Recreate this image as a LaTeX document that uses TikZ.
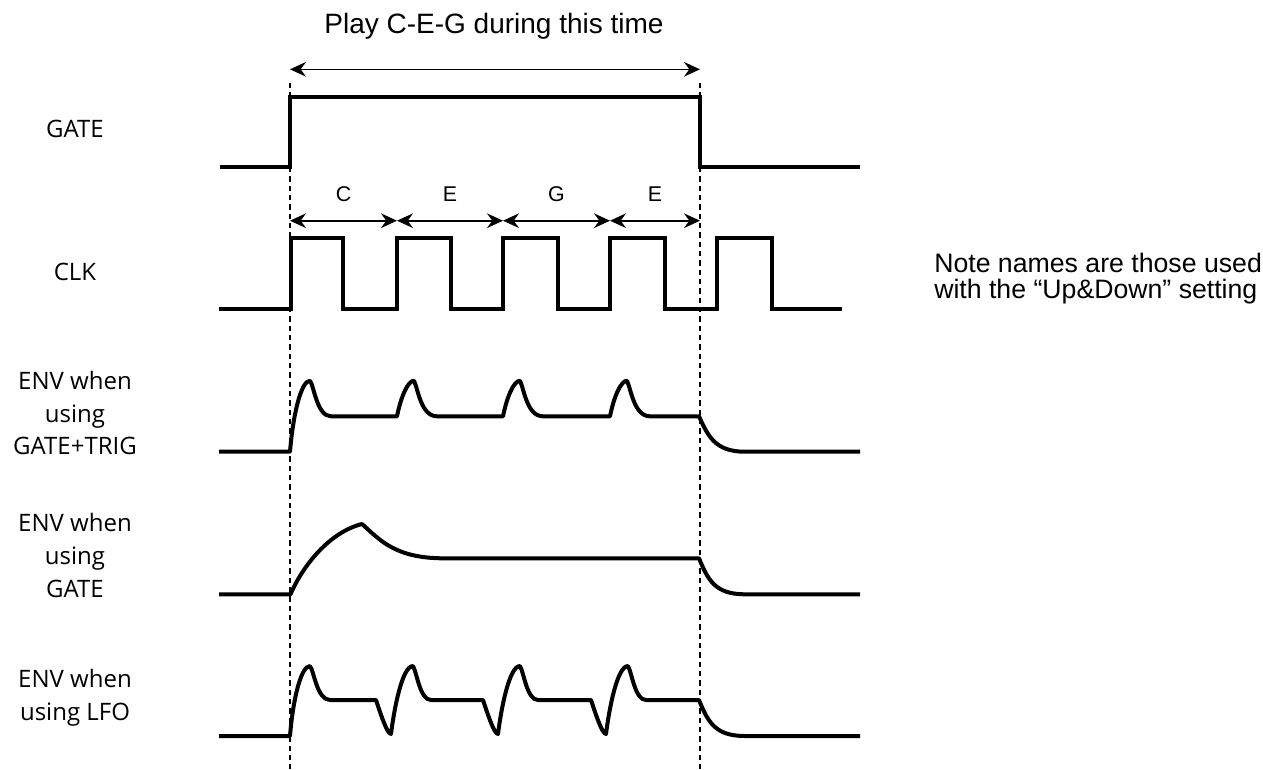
\documentclass[tikz,border=0pt]{standalone}
\usepackage{fontspec}
\setmainfont{Liberation Sans}
\newfontfamily\lblfont{Open Sans}
\usetikzlibrary{arrows.meta}
\begin{document}
\begin{tikzpicture}[x=0.75pt,y=-0.75pt,
  wave/.style={line width=3pt, line join=miter},
  envw/.style={line width=3pt, line join=round},
  guide/.style={line width=1pt, dash pattern=on 4pt off 3pt},
  span/.style={line width=1.2pt, {Stealth[length=12pt,width=11pt,inset=4pt]}-{Stealth[length=12pt,width=11pt,inset=4pt]}},
  sig/.style={font=\lblfont\fontsize{18}{24.4}\selectfont, align=center, inner sep=0pt},
  note/.style={font=\fontsize{16}{18}\selectfont, inner sep=0pt, anchor=base},
  info/.style={font=\fontsize{20}{18}\selectfont, inner sep=0pt, anchor=base west},
  title/.style={font=\fontsize{21}{24}\selectfont, inner sep=0pt, anchor=base}
]
\useasboundingbox (0,0) rectangle (1263,769);

% guide lines
\coordinate (d1t) at (290,83);  \coordinate (d1b) at (290,769);
\coordinate (d2t) at (700,83);  \coordinate (d2b) at (700,769);
\draw[guide] (d1t) -- (d1b);
\draw[guide] (d2t) -- (d2b);

% title arrow
\node[title] (ttl) at (494,33.3) {Play C-E-G during this time};
\coordinate (pL) at (290,69.3); \coordinate (pR) at (700,69.3);
\draw[span] (pL) -- (pR);

% note arrows
\coordinate (n0) at (290,220.7);
\coordinate (n1) at (397,220.7);
\coordinate (n2) at (503,220.7);
\coordinate (n3) at (610,220.7);
\coordinate (n4) at (700,220.7);
\draw[span] (n0) -- (n1);
\draw[span] (n1) -- (n2);
\draw[span] (n2) -- (n3);
\draw[span] (n3) -- (n4);
\node[note] (lc)  at (343.5,201) {C};
\node[note] (le1) at (450,201) {E};
\node[note] (lg)  at (556.5,201) {G};
\node[note] (le2) at (655,201) {E};

% labels
\node[sig] (lgate) at (75,129) {GATE};
\node[sig] (lclk)  at (75,272) {CLK};
\node[sig] (ltrig) at (75,413) {ENV when\\using\\GATE+TRIG};
\node[sig] (lenvg) at (75,555.5) {ENV when\\using\\GATE};
\node[sig] (llfo)  at (75,698) {ENV when\\using LFO};

\node[info] (i1) at (934,272) {Note names are those used};
\node[info] (i2) at (934,298.5) {with the “Up\&Down” setting};

% GATE
\draw[wave] (219.6,166.7) -- (290.4,166.7) -- (290.4,96.7) -- (700,96.7) -- (700,166.7) -- (860,166.7);

% CLK
\draw[wave] (219,309) -- (290.5,309) |- (343,238.3) |- (397,309) |- (451,238.3) |- (503,309)
  |- (558,238.3) |- (610,309) |- (665,238.3) |- (717,309) |- (771.5,238.3) |- (842,309);

% ENV GATE+TRIG
\draw[envw] (219,451.7) -- (290,451.7)
  .. controls (293,415) and (301,380.7) .. (310,380.7)
  .. controls (314,386) and (317,416.3) .. (331,416.3) -- (397,416.3)
  .. controls (401,396.3) and (408,380.7) .. (414,380.7)
  .. controls (418,389) and (421,416.3) .. (437,416.3) -- (503,416.3)
  .. controls (507,396.3) and (514,380.7) .. (520,380.7)
  .. controls (524,389) and (527,416.3) .. (543,416.3) -- (610,416.3)
  .. controls (614,396.3) and (621,380.7) .. (627,380.7)
  .. controls (631,389) and (634,416.3) .. (650,416.3) -- (699,416.3)
  .. controls (708,436) and (715,451.7) .. (745,451.7) -- (860,451.7);

% ENV GATE
\draw[envw] (219,594.3) -- (290.5,594.3)
  .. controls (303,565) and (330,532) .. (362,524)
  .. controls (380,540) and (395,558.3) .. (444,558.3) -- (699,558.3)
  .. controls (708,580) and (715,594.3) .. (745,594.3) -- (860,594.3);

% ENV LFO
\draw[envw] (219,736) -- (290,736)
  .. controls (293,699) and (301,666) .. (310,666)
  .. controls (314,671) and (317,700) .. (330,700) -- (376,700)
  .. controls (380,712) and (387,734) .. (391,734)
  .. controls (394,710) and (402,666) .. (413,666)
  .. controls (417,673) and (420,700) .. (431,700) -- (483,700)
  .. controls (487,712) and (494,734) .. (498,734)
  .. controls (501,710) and (509,666) .. (520,666)
  .. controls (524,673) and (527,700) .. (538,700) -- (591,700)
  .. controls (595,712) and (602,734) .. (606,734)
  .. controls (609,710) and (617,666) .. (628,666)
  .. controls (632,673) and (635,700) .. (646,700) -- (699,700)
  .. controls (708,722) and (715,736) .. (745,736) -- (860,736);
\end{tikzpicture}
\end{document}
